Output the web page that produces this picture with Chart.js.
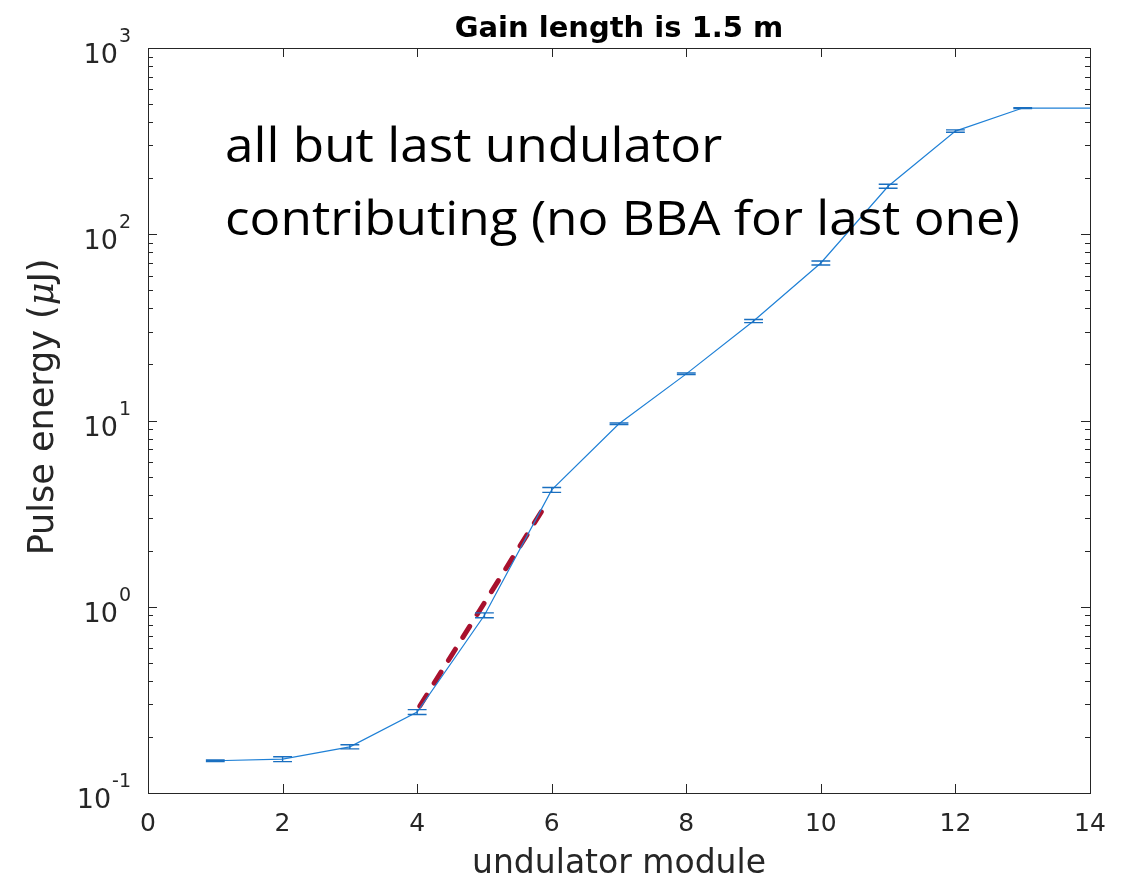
<!DOCTYPE html>
<html>
<head>
<meta charset="utf-8">
<script src="https://cdn.jsdelivr.net/npm/chart.js@4"></script>
<style>
  html, body { margin: 0; padding: 0; background: #fff; }
  #wrap { width: 1134px; height: 878px; position: relative; }
</style>
</head>
<body>
<div id="wrap"><canvas id="gain-chart" width="1134" height="878"></canvas></div>
<script>
// Dữ liệu
const modules = [1, 2, 3, 4, 5, 6, 7, 8, 9, 10, 11, 12, 13, 14];
const pulseEnergy = [0.149, 0.152, 0.177, 0.272, 0.90, 4.24, 9.6, 17.8, 34.2, 70.1, 181, 358, 476, 476];
// sai số tương đối (nửa khoảng) cho mỗi điểm
const relError = [0.01, 0.03, 0.025, 0.03, 0.03, 0.03, 0.01, 0.01, 0.02, 0.025, 0.025, 0.015, 0.005, 0];
// đường fit hàm mũ (đỏ, nét đứt)
const fitX = [4.04, 5.91];
const fitY = [0.293, 3.52];
const xTicks = [0, 2, 4, 6, 8, 10, 12, 14];
const yTicks = [0.1, 1, 10, 100, 1000];
const yTickExp = ["-1", "0", "1", "2", "3"];

const titleText = "Gain length is 1.5 m";
const xTitle = "undulator module";
const noteLines = ["all but last undulator", "contributing (no BBA for last one)"];

const axisColor = "#262626";
const lineBlue = "#1f80d6";
const capBlue = "#1a6fc0";
const fitRed = "#a8112e";
const labelFont = "'DejaVu Sans', 'Liberation Sans', sans-serif";

// Plugin vẽ khung, vạch chia hướng vào trong, thanh sai số, nhãn và chú thích
const matlabFrame = {
  id: "matlabFrame",
  afterDatasetsDraw(chart) {
    const ctx = chart.ctx;
    const area = chart.chartArea;
    const xs = chart.scales.x;
    const ys = chart.scales.y;
    const midX = (area.left + area.right) / 2;

    // thanh sai số
    ctx.save();
    ctx.strokeStyle = capBlue;
    ctx.lineWidth = 1.4;
    const capHalf = xs.getPixelForValue(0.14) - xs.getPixelForValue(0);
    modules.forEach((m, i) => {
      if (!relError[i]) return;
      const px = xs.getPixelForValue(m);
      const lo = ys.getPixelForValue(pulseEnergy[i] * (1 - relError[i]));
      const hi = ys.getPixelForValue(pulseEnergy[i] * (1 + relError[i]));
      ctx.beginPath();
      ctx.moveTo(px, lo); ctx.lineTo(px, hi);
      ctx.moveTo(px - capHalf, lo); ctx.lineTo(px + capHalf, lo);
      ctx.moveTo(px - capHalf, hi); ctx.lineTo(px + capHalf, hi);
      ctx.stroke();
    });
    ctx.restore();

    // khung
    ctx.save();
    ctx.strokeStyle = axisColor;
    ctx.lineWidth = 1;
    ctx.strokeRect(area.left + 0.5, area.top + 0.5, area.right - area.left, area.bottom - area.top);

    // vạch chia trục x
    const majorLen = 9;
    xTicks.forEach(v => {
      const px = Math.round(xs.getPixelForValue(v)) + 0.5;
      ctx.beginPath();
      ctx.moveTo(px, area.bottom); ctx.lineTo(px, area.bottom - majorLen);
      ctx.moveTo(px, area.top); ctx.lineTo(px, area.top + majorLen);
      ctx.stroke();
    });
    // vạch chia trục y (log, có vạch phụ)
    for (let d = -1; d <= 2; d++) {
      for (let k = 1; k <= 9; k++) {
        const v = k * Math.pow(10, d);
        const py = Math.round(ys.getPixelForValue(v)) + 0.5;
        const len = k === 1 ? majorLen : 5;
        ctx.beginPath();
        ctx.moveTo(area.left, py); ctx.lineTo(area.left + len, py);
        ctx.moveTo(area.right, py); ctx.lineTo(area.right - len, py);
        ctx.stroke();
      }
    }

    // nhãn trục x
    ctx.fillStyle = axisColor;
    ctx.font = "25px " + labelFont;
    ctx.textAlign = "center";
    ctx.textBaseline = "alphabetic";
    xTicks.forEach(v => {
      ctx.fillText(String(v), xs.getPixelForValue(v), area.bottom + 38);
    });

    // nhãn trục y dạng 10^n với số mũ
    yTicks.forEach((v, i) => {
      const py = ys.getPixelForValue(v);
      ctx.font = "19px " + labelFont;
      ctx.textAlign = "right";
      const expW = ctx.measureText(yTickExp[i]).width;
      ctx.fillText(yTickExp[i], area.left - 17, py - 6);
      ctx.font = "27px " + labelFont;
      ctx.fillText("10", area.left - 17 - expW - 1, py + 15);
    });

    // tên trục x
    ctx.font = "33px " + labelFont;
    ctx.textAlign = "center";
    ctx.fillText(xTitle, midX, area.bottom + 80);
    ctx.restore();

    // tiêu đề
    ctx.save();
    ctx.fillStyle = "#000";
    ctx.font = "bold 29px " + labelFont;
    ctx.textAlign = "center";
    ctx.textBaseline = "alphabetic";
    ctx.fillText(titleText, midX, area.top - 11);
    ctx.restore();

    // nhãn trục y với μ nghiêng
    ctx.save();
    ctx.translate(53, 407);
    ctx.rotate(-Math.PI / 2);
    ctx.fillStyle = axisColor;
    ctx.textAlign = "left";
    ctx.textBaseline = "alphabetic";
    const normal = "35px " + labelFont;
    const italic = "italic 35px 'DejaVu Serif', serif";
    const parts = [["Pulse energy (", normal], ["\u03BC", italic], ["J)", normal]];
    let total = 0;
    parts.forEach(p => { ctx.font = p[1]; total += ctx.measureText(p[0]).width; });
    let cx = -total / 2;
    parts.forEach(p => { ctx.font = p[1]; ctx.fillText(p[0], cx, 0); cx += ctx.measureText(p[0]).width; });
    ctx.restore();

    // chú thích lớn, kéo giãn theo chiều ngang cho khớp độ rộng
    ctx.save();
    ctx.fillStyle = "#000";
    ctx.font = "47px 'Open Sans', 'Lato', sans-serif";
    ctx.textAlign = "left";
    ctx.textBaseline = "alphabetic";
    const targetW = 795;
    const sx = targetW / ctx.measureText(noteLines[1]).width;
    ctx.translate(area.left + 77, 0);
    ctx.scale(sx, 1);
    ctx.fillText(noteLines[0], 0, 162);
    ctx.fillText(noteLines[1], 0, 235);
    ctx.restore();
  }
};

const ctx = document.getElementById("gain-chart").getContext("2d");
new Chart(ctx, {
  type: "line",
  data: {
    datasets: [
      {
        label: "pulse energy",
        data: modules.map((m, i) => ({ x: m, y: pulseEnergy[i] })),
        borderColor: lineBlue,
        borderWidth: 1.2,
        pointRadius: 0,
        fill: false,
        tension: 0,
        clip: false,
      },
      {
        label: "fit",
        data: fitX.map((x, i) => ({ x: x, y: fitY[i] })),
        borderColor: fitRed,
        borderWidth: 5,
        borderDash: [13, 14],
        borderCapStyle: "round",
        pointRadius: 0,
        fill: false,
      },
    ],
  },
  plugins: [matlabFrame],
  options: {
    responsive: false,
    animation: false,
    layout: { padding: { top: 48, right: 44, left: 0, bottom: 0 } },
    plugins: { legend: { display: false }, tooltip: { enabled: false }, title: { display: false } },
    scales: {
      x: {
        type: "linear",
        min: 0,
        max: 14,
        ticks: { display: false, stepSize: 2 },
        grid: { display: false, drawTicks: false },
        border: { display: false },
        afterFit: (s) => { s.height = 85; },
      },
      y: {
        type: "logarithmic",
        min: 0.1,
        max: 1000,
        afterBuildTicks: (s) => { s.ticks = yTicks.map(v => ({ value: v })); },
        ticks: { display: false },
        grid: { display: false, drawTicks: false },
        border: { display: false },
        afterFit: (s) => { s.width = 148; },
      },
    },
  },
});
</script>
</body>
</html>
